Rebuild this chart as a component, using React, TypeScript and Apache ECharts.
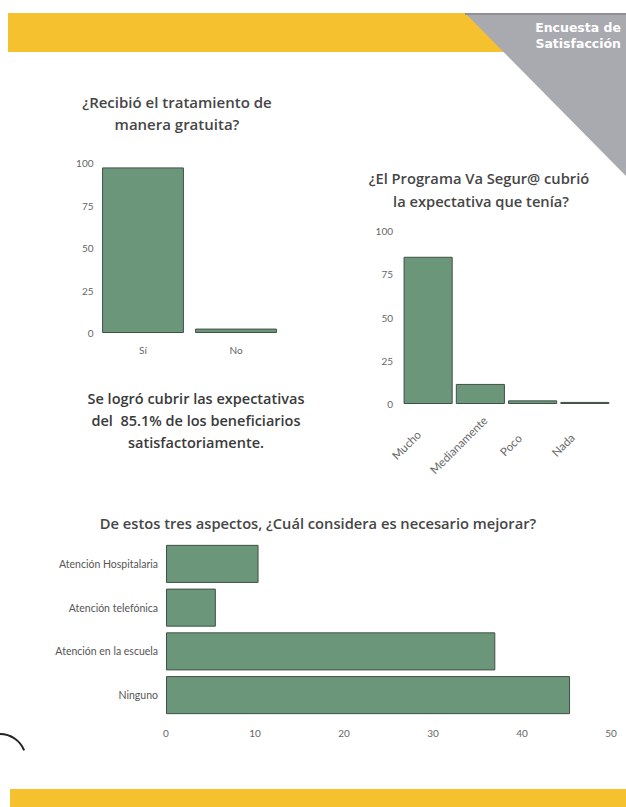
import React, { useEffect, useRef } from "react";
import * as echarts from "echarts";

const q1Categories = ["Sí", "No"];
const q1Values = [97.4, 2.6];
const q1Ticks = [0, 25, 50, 75, 100];

const q2Categories = ["Mucho", "Medianamente", "Poco", "Nada"];
const q2Values = [85.1, 11.6, 2.1, 1.2];

const q3Categories = ["Atención Hospitalaria", "Atención telefónica", "Atención en la escuela", "Ninguno"];
const q3Values = [10.4, 5.6, 37.0, 45.4];

const title1 = ["¿Recibió el tratamiento de", "manera gratuita?"];
const title2 = ["¿El Programa Va Segur@ cubrió", "la expectativa que tenía?"];
const title3 = "De estos tres aspectos, ¿Cuál considera es necesario mejorar?";
const summary = ["Se logró cubrir las expectativas", "del  85.1% de los beneficiarios", "satisfactoriamente."];
const header = ["Encuesta de", "Satisfacción"];

const BAR = "#6c967a";
const BAR_EDGE = "#3f5246";
const TXT = "#464646";
const FONT = "Lato, 'Open Sans', sans-serif";
const TFONT = "'Open Sans', Lato, sans-serif";
const HFONT = "bold 12.5px 'DejaVu Sans', 'Liberation Sans', sans-serif";

export default function App() {
  const ref = useRef<HTMLDivElement>(null);
  useEffect(() => {
    if (!ref.current) return;
    const chart = echarts.init(ref.current, null, { renderer: "svg" });
    const numLabel = { color: "#666", fontSize: 10, fontFamily: FONT };
    const barStyle = { color: BAR, borderColor: BAR_EDGE, borderWidth: 1 };
    const txt = (text: string, x: number, y: number, size: number, extra: any = {}) => ({
      type: "text",
      x,
      y,
      style: {
        text,
        fill: TXT,
        font: `600 ${size}px ${TFONT}`,
        align: "center",
        verticalAlign: "middle",
        ...extra,
      },
      z: 10,
    });
    const option: any = {
      animation: false,
      backgroundColor: "#ffffff",
      grid: [
        { left: 96.5, right: 343.5, top: 163, bottom: 474 },
        { left: 402, right: 15, top: 231, bottom: 403 },
        { left: 166, right: 15, top: 542, bottom: 90 },
      ],
      xAxis: [
        {
          gridIndex: 0,
          type: "category",
          data: q1Categories,
          axisLine: { show: false },
          axisTick: { show: false },
          axisLabel: { ...numLabel, margin: 12 },
        },
        {
          gridIndex: 1,
          type: "category",
          data: q2Categories,
          axisLine: { show: false },
          axisTick: { show: false },
          axisLabel: {
            ...numLabel,
            fontSize: 11.5,
            rotate: 45,
            align: "center",
            verticalAlign: "middle",
            padding: [0, 62, 0, 0],
            margin: 19,
            interval: 0,
          },
        },
        {
          gridIndex: 2,
          type: "value",
          min: 0,
          max: 50,
          interval: 10,
          axisLine: { show: false },
          axisTick: { show: false },
          splitLine: { show: false },
          axisLabel: { ...numLabel, margin: 11 },
        },
      ],
      yAxis: [
        {
          gridIndex: 0,
          type: "value",
          min: q1Ticks[0],
          max: q1Ticks[q1Ticks.length - 1],
          interval: 25,
          axisLine: { show: false },
          axisTick: { show: false },
          splitLine: { show: false },
          axisLabel: { ...numLabel, margin: 3 },
        },
        {
          gridIndex: 1,
          type: "value",
          min: 0,
          max: 100,
          interval: 25,
          axisLine: { show: false },
          axisTick: { show: false },
          splitLine: { show: false },
          axisLabel: { ...numLabel, margin: 9 },
        },
        {
          gridIndex: 2,
          type: "category",
          data: q3Categories,
          inverse: true,
          axisLine: { show: false },
          axisTick: { show: false },
          axisLabel: { color: "#555", fontSize: 10.5, fontFamily: FONT, margin: 8 },
        },
      ],
      series: [
        {
          type: "bar",
          xAxisIndex: 0,
          yAxisIndex: 0,
          data: q1Values,
          barCategoryGap: "12%",
          itemStyle: barStyle,
        },
        {
          type: "bar",
          xAxisIndex: 1,
          yAxisIndex: 1,
          data: q2Values,
          barCategoryGap: "6%",
          itemStyle: barStyle,
        },
        {
          type: "bar",
          xAxisIndex: 2,
          yAxisIndex: 2,
          data: q3Values,
          barCategoryGap: "13%",
          itemStyle: barStyle,
        },
      ],
      graphic: [
        { type: "rect", shape: { x: 8, y: 13, width: 618, height: 39 }, style: { fill: "#f5c12f" }, z: 1 },
        {
          type: "polygon",
          shape: { points: [[465, 13], [626, 13], [626, 176]] },
          style: { fill: "#a9a9b0" },
          z: 2,
        },
        { type: "line", shape: { x1: 465, y1: 14, x2: 626, y2: 14 }, style: { stroke: "#909096", lineWidth: 2 }, z: 3 },
        {
          type: "text",
          x: 621,
          y: 27,
          style: { text: header[0], fill: "#ffffff", font: HFONT, align: "right", verticalAlign: "middle" },
          z: 5,
        },
        {
          type: "text",
          x: 621,
          y: 43,
          style: { text: header[1], fill: "#ffffff", font: HFONT, align: "right", verticalAlign: "middle" },
          z: 5,
        },
        txt(title1[0], 177, 102, 15),
        txt(title1[1], 177, 124, 15),
        txt(title2[0], 479, 178, 14.7),
        txt(title2[1], 481, 201, 14.7),
        txt(summary[0], 196, 398, 14.5, { fill: "#3a3a3a" }),
        txt(summary[1], 196, 420, 14.5, { fill: "#3a3a3a" }),
        txt(summary[2], 196, 442, 14.5, { fill: "#3a3a3a" }),
        txt(title3, 318, 523, 14.7),
        {
          type: "arc",
          shape: { cx: 0, cy: 760, r: 26, startAngle: -Math.PI / 2, endAngle: -0.38, clockwise: true },
          style: { stroke: "#222", lineWidth: 2, fill: "none" },
          z: 5,
        },
        { type: "rect", shape: { x: 10, y: 789, width: 616, height: 18 }, style: { fill: "#f5c12f" }, z: 1 },
      ],
    };
    chart.setOption(option);
    return () => chart.dispose();
  }, []);
  return (
    <div
      ref={ref}
      style={{ position: "absolute", left: 0, top: 0, width: 626, height: 807, background: "#fff" }}
    />
  );
}
